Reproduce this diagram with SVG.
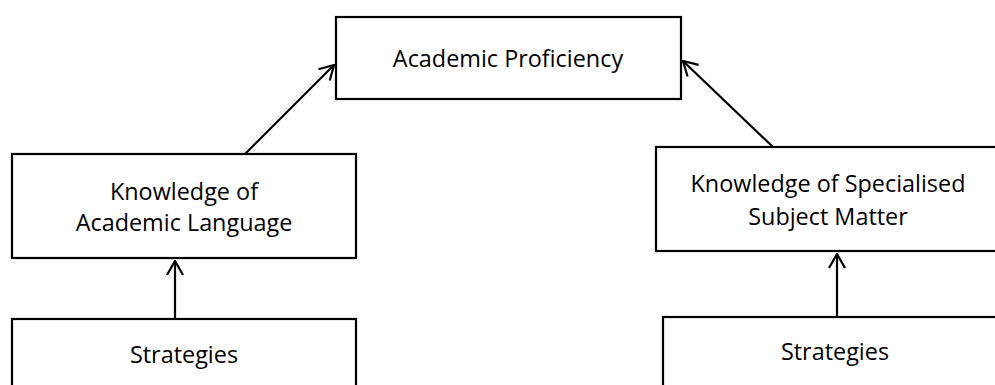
<svg xmlns="http://www.w3.org/2000/svg" width="995" height="385" viewBox="0 0 995 385">
<defs>
<style>
.box{fill:#fff;stroke:#000;stroke-width:2.2}
.lbl{font-family:"Open Sans","Liberation Sans",sans-serif;font-size:23.4px;fill:#000;text-anchor:middle}
.conn{stroke:#000;stroke-width:2.2;fill:none;marker-end:url(#arr)}
</style>
<marker id="arr" viewBox="0 0 16 18" refX="15" refY="9" markerWidth="16" markerHeight="18" markerUnits="userSpaceOnUse" orient="auto">
<polyline points="1,1 15,9 1,17" fill="none" stroke="#000" stroke-width="2.2"/>
</marker>
</defs>
<g id="connectors">
<line class="conn" x1="245" y1="154" x2="334" y2="65"/>
<line class="conn" x1="773" y1="147" x2="683" y2="61"/>
<line class="conn" x1="175" y1="319" x2="175" y2="261"/>
<line class="conn" x1="837" y1="317" x2="837" y2="254"/>
</g>
<g id="academic-proficiency">
<rect class="box" x="336" y="17" width="345" height="82"/>
<text class="lbl" x="508" y="67">Academic Proficiency</text>
</g>
<g id="knowledge-academic-language">
<rect class="box" x="12" y="154" width="344" height="104"/>
<text class="lbl" x="184" y="200">Knowledge of</text>
<text class="lbl" x="184" y="231">Academic Language</text>
</g>
<g id="strategies-left">
<rect class="box" x="12" y="319" width="344" height="80"/>
<text class="lbl" x="184" y="363">Strategies</text>
</g>
<g id="knowledge-specialised">
<rect class="box" x="656" y="147" width="350" height="104"/>
<text class="lbl" x="828" y="192">Knowledge of Specialised</text>
<text class="lbl" x="828" y="225">Subject Matter</text>
</g>
<g id="strategies-right">
<rect class="box" x="663" y="317" width="350" height="80"/>
<text class="lbl" x="835" y="360">Strategies</text>
</g>
</svg>
